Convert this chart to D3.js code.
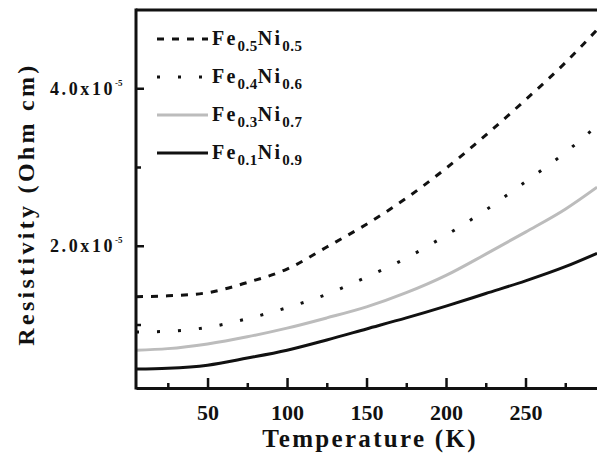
<!DOCTYPE html>
<html>
<head>
<meta charset="utf-8">
<script src="https://cdn.jsdelivr.net/npm/d3@7"></script>
<style>
  body { margin: 0; background: #fff; }
  text { font-family: "Liberation Serif", "Times New Roman", serif; font-weight: bold; fill: #111; }
</style>
</head>
<body>
<script>
// temperatures (K) and resistivity values in units of 1e-5 Ohm cm
var temps = [5, 25, 50, 75, 100, 125, 150, 175, 200, 225, 250, 275, 295];
var fe05 = [1.36, 1.37, 1.41, 1.54, 1.71, 1.99, 2.28, 2.61, 2.99, 3.41, 3.86, 4.33, 4.75];
var fe04 = [0.91, 0.92, 0.97, 1.08, 1.22, 1.39, 1.61, 1.85, 2.14, 2.46, 2.82, 3.19, 3.53];
var fe03 = [0.68, 0.70, 0.76, 0.85, 0.96, 1.09, 1.23, 1.41, 1.63, 1.90, 2.18, 2.47, 2.75];
var fe01 = [0.44, 0.45, 0.49, 0.58, 0.68, 0.81, 0.95, 1.09, 1.24, 1.40, 1.56, 1.74, 1.91];

var seriesNames = [["0.5", "0.5"], ["0.4", "0.6"], ["0.3", "0.7"], ["0.1", "0.9"]];
var xTicks = [50, 100, 150, 200, 250];
var yTicks = [2.0, 4.0];

var svgWidth = 597, svgHeight = 464;
var plotLeft = 136, plotTop = 10, plotRight = 605, plotBottom = 388;

var svg = d3.select("body").append("svg")
  .attr("width", svgWidth)
  .attr("height", svgHeight);

var x = d3.scaleLinear().domain([5, 300]).range([plotLeft, plotRight]);
var y = d3.scaleLinear().domain([0.2, 5.0]).range([plotBottom, plotTop]);

svg.append("clipPath").attr("id", "clip")
  .append("rect").attr("x", plotLeft).attr("y", plotTop)
  .attr("width", plotRight - plotLeft).attr("height", plotBottom - plotTop);

var styles = [
  { stroke: "#111", width: 3, dash: "7,8" },
  { stroke: "#111", width: 3, dash: "3,18" },
  { stroke: "#bcbcbc", width: 3, dash: null },
  { stroke: "#111", width: 3, dash: null }
];

var line = d3.line()
  .x(function(d) { return x(d[0]); })
  .y(function(d) { return y(d[1]); })
  .curve(d3.curveMonotoneX);

var plot = svg.append("g").attr("clip-path", "url(#clip)");
[fe05, fe04, fe03, fe01].forEach(function(vals, i) {
  var pts = temps.map(function(t, j) { return [t, vals[j]]; });
  plot.append("path")
    .attr("d", line(pts))
    .attr("fill", "none")
    .attr("stroke", styles[i].stroke)
    .attr("stroke-width", styles[i].width)
    .attr("stroke-dasharray", styles[i].dash);
});

// frame
svg.append("line").attr("x1", plotLeft).attr("x2", plotLeft).attr("y1", plotTop - 1.5).attr("y2", plotBottom + 1.5)
  .attr("stroke", "#111").attr("stroke-width", 3);
svg.append("line").attr("x1", plotLeft).attr("x2", svgWidth).attr("y1", plotTop).attr("y2", plotTop)
  .attr("stroke", "#111").attr("stroke-width", 3);

// x axis, ticks inward
var xAxis = svg.append("g").attr("transform", "translate(0," + plotBottom + ")")
  .call(d3.axisBottom(x).tickValues(xTicks).tickSizeInner(-10).tickSizeOuter(0).tickPadding(16));
svg.append("g").attr("transform", "translate(0," + plotBottom + ")")
  .call(d3.axisBottom(x).tickValues([25, 75, 125, 175, 225, 275]).tickSizeInner(-5).tickSizeOuter(0).tickFormat(""))
  .call(function(g) { g.select(".domain").remove(); });
svg.selectAll(".domain").attr("stroke", "#111").attr("stroke-width", 3);
svg.selectAll(".tick line").attr("stroke", "#111").attr("stroke-width", 2.5);
xAxis.selectAll(".tick text").attr("font-size", 22).attr("fill", "#111")
  .style("font-family", "Liberation Serif").style("font-weight", "bold");

// y axis ticks inward
var yAxis = svg.append("g").attr("transform", "translate(" + plotLeft + ",0)");
yAxis.selectAll("line.major").data(yTicks).enter().append("line")
  .attr("x1", 0).attr("x2", 8).attr("y1", function(d) { return y(d); }).attr("y2", function(d) { return y(d); })
  .attr("stroke", "#111").attr("stroke-width", 2.5);
yAxis.selectAll("line.minor").data([1.0, 3.0]).enter().append("line")
  .attr("x1", 0).attr("x2", 5).attr("y1", function(d) { return y(d); }).attr("y2", function(d) { return y(d); })
  .attr("stroke", "#111").attr("stroke-width", 2.5);
var yLab = yAxis.selectAll("text.lab").data(yTicks).enter().append("text")
  .attr("x", -86).attr("y", function(d) { return y(d) + 6; })
  .attr("font-size", 18).attr("letter-spacing", 2.6);
yLab.append("tspan").text(function(d) { return d.toFixed(1) + "x10"; });
yLab.append("tspan").attr("dy", -9).attr("font-size", 9).attr("letter-spacing", 0).text("-5");

// axis titles
svg.append("text")
  .attr("transform", "translate(34,204) rotate(-90)")
  .attr("text-anchor", "middle").attr("font-size", 24)
  .attr("letter-spacing", 3.3)
  .text("Resistivity (Ohm cm)");
svg.append("text")
  .attr("x", 370).attr("y", 447)
  .attr("text-anchor", "middle").attr("font-size", 25)
  .attr("letter-spacing", 2.3)
  .text("Temperature (K)");

// legend
var legend = svg.append("g");
seriesNames.forEach(function(n, i) {
  var ly = 39 + i * 38;
  legend.append("line")
    .attr("x1", 157).attr("x2", 208).attr("y1", ly).attr("y2", ly)
    .attr("stroke", styles[i].stroke).attr("stroke-width", styles[i].width)
    .attr("stroke-dasharray", styles[i].dash);
  var t = legend.append("text").attr("x", 212).attr("y", ly + 6).attr("font-size", 20).attr("letter-spacing", 2.2);
  t.append("tspan").text("Fe");
  t.append("tspan").attr("dy", 6).attr("font-size", 15).attr("letter-spacing", 0.5).text(n[0]);
  t.append("tspan").attr("dy", -6).text("Ni");
  t.append("tspan").attr("dy", 6).attr("font-size", 15).attr("letter-spacing", 0.5).text(n[1]);
});
</script>
</body>
</html>
